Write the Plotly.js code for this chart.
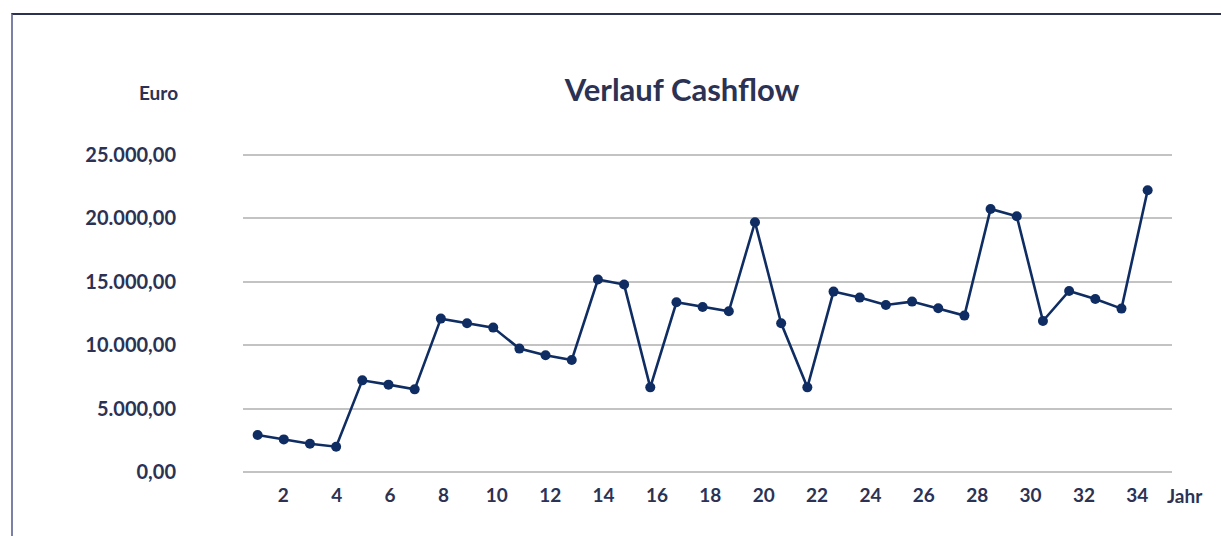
<!DOCTYPE html>
<html>
<head>
<meta charset="utf-8">
<script src="https://cdn.plot.ly/plotly-3.0.1.min.js"></script>
<style>
  html, body { margin: 0; padding: 0; background: #ffffff; }
  #wrap { position: relative; width: 1221px; height: 536px; }
  #chart { width: 1221px; height: 536px; }
  #frame { position: absolute; left: 11px; top: 13px; right: -4px; bottom: -4px;
           border-left: 2px solid #7d80a6; border-top: 2px solid #2c3150; pointer-events: none; }
</style>
</head>
<body>
<div id="wrap">
  <div id="chart"></div>
  <div id="frame"></div>
</div>
<script>
// Data
const years = [1,2,3,4,5,6,7,8,9,10,11,12,13,14,15,16,17,18,19,20,21,22,23,24,25,26,27,28,29,30,31,32,33,34,35];
const cashflow = [2918, 2579, 2240, 2003, 7232, 6893, 6522, 12098, 11727, 11388,
                  9732, 9204, 8833, 15174, 14779, 6680, 13383, 13013, 12674, 19692,
                  11727, 6680, 14227, 13754, 13170, 13438, 12910, 12334, 20741, 20166,
                  11909, 14274, 13644, 12886, 22216];
const xTickVals = [2,4,6,8,10,12,14,16,18,20,22,24,26,28,30,32,34];
const xTickText = ["2","4","6","8","10","12","14","16","18","20","22","24","26","28","30","32","34"];
const yTickVals = [0, 5000, 10000, 15000, 20000, 25000];
const titleText = "Verlauf Cashflow";
const yUnit = "Euro";
const xUnit = "Jahr";

const navy = "#0f2d62";
const textCol = "#2b3254";
const fontFam = "Lato, 'Open Sans', sans-serif";

const traces = [
  {
    x: years, y: cashflow, type: "scatter", mode: "lines+markers",
    line: { color: navy, width: 2.6 },
    marker: { color: navy, size: 10 },
    showlegend: false, hoverinfo: "x+y"
  },
  {
    x: xTickVals, y: xTickVals.map(() => null), xaxis: "x2", type: "scatter", mode: "lines",
    showlegend: false, hoverinfo: "skip"
  }
];

const layout = {
  width: 1221, height: 536,
  paper_bgcolor: "rgba(0,0,0,0)", plot_bgcolor: "rgba(0,0,0,0)",
  separators: ",.",
  margin: { l: 243, r: 49, t: 153, b: 62 },
  font: { family: fontFam, color: textCol },
  title: {
    text: titleText,
    font: { family: fontFam, size: 31, color: textCol, weight: 700 },
    xref: "container", x: 0.5586, xanchor: "center",
    yref: "container", y: 0.832, yanchor: "middle"
  },
  xaxis: {
    range: [0.442, 35.93],
    showgrid: false, zeroline: false, showline: false,
    showticklabels: false, ticks: ""
  },
  xaxis2: {
    overlaying: "x", side: "bottom",
    range: [0.49, 35.30],
    tickmode: "array", tickvals: xTickVals, ticktext: xTickText,
    showgrid: false, zeroline: false, showline: false, ticks: "",
    tickfont: { family: fontFam, size: 19, color: textCol, weight: 700 },
    ticklabelstandoff: 8
  },
  yaxis: {
    range: [-150, 25150],
    tickmode: "array", tickvals: yTickVals,
    tickformat: ",.2f",
    showgrid: true, gridcolor: "#c3c3c3", gridwidth: 2,
    zeroline: false, showline: false, ticks: "",
    tickfont: { family: fontFam, size: 20, color: textCol, weight: 700 },
    ticklabelstandoff: 66
  },
  annotations: [
    { text: yUnit, xref: "paper", yref: "paper", x: -0.0675, y: 1.19,
      xanchor: "right", yanchor: "middle", showarrow: false,
      font: { family: fontFam, size: 19, color: textCol, weight: 700 } },
    { text: xUnit, xref: "paper", yref: "paper", x: 1.0143, y: -0.068,
      xanchor: "center", yanchor: "middle", showarrow: false,
      font: { family: fontFam, size: 19, color: textCol, weight: 700 } }
  ]
};

Plotly.newPlot("chart", traces, layout, { displayModeBar: false, staticPlot: true });
</script>
</body>
</html>
